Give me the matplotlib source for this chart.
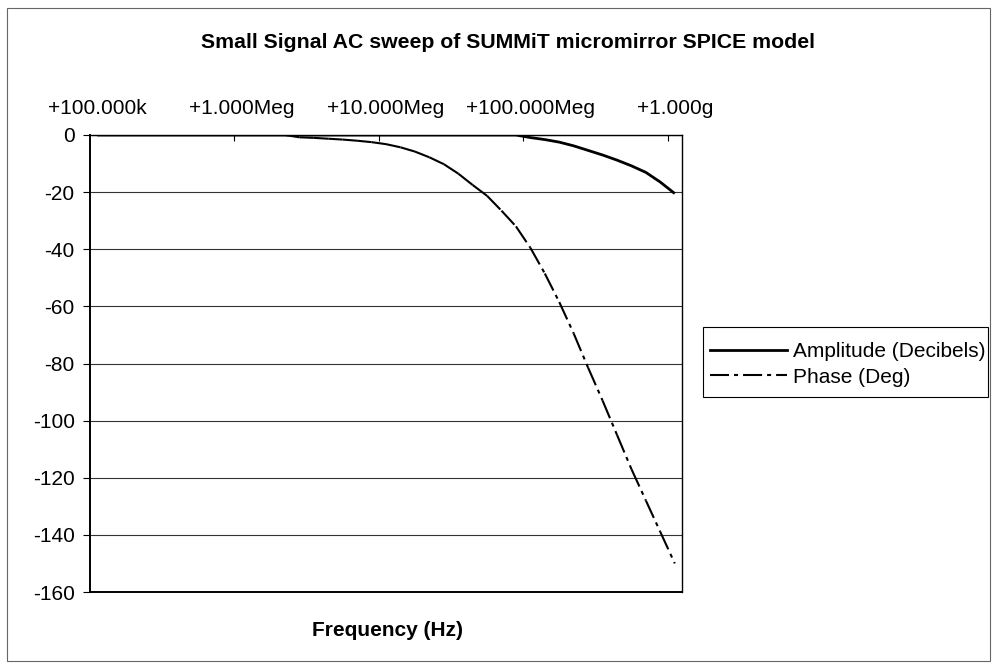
import numpy as np
import matplotlib
matplotlib.use("Agg")
import matplotlib.pyplot as plt
from matplotlib.collections import LineCollection
from matplotlib.lines import Line2D
from matplotlib.patches import Rectangle

plt.rcParams['font.family'] = ['Liberation Sans', 'DejaVu Sans']
plt.rcParams['lines.scale_dashes'] = False
plt.rcParams['axes.unicode_minus'] = False

# SPICE .AC DEC 10 sweep, 100k .. 1g -> 41 points
freq_labels = ["+100.000k", "+1.000Meg", "+10.000Meg", "+100.000Meg", "+1.000g"]
label_every = 10

amplitude_db = [0.0] * 30 + [-0.9, -1.6, -2.5, -3.8, -5.4, -7.0, -8.8, -10.8,
                             -13.1, -16.5, -20.5]

phase_deg = [0.0] * 14 + [-0.8, -1.0, -1.3, -1.6, -2.0, -2.5, -3.2, -4.3, -5.8,
                          -7.8, -10.2, -13.5, -17.5, -21.3, -26.5, -32.0, -39.5,
                          -48.5, -58.5, -69.5, -81.5, -93.0, -105.0, -117.0,
                          -128.0, -139.0, -150.0]

DASH = (0, (13.7, 3.6, 2.9, 3.6))

fig = plt.figure(figsize=(9.92, 6.64), dpi=100)
ax = fig.add_axes([90 / 992, 1 - 592 / 664, 592 / 992, 457 / 664])

n = len(amplitude_db)
idx = np.arange(n)

ax.set_xlim(-0.5, n - 0.5)
ax.set_ylim(-160, 0)
ax.set_yticks(np.arange(-160, 1, 20))
ax.yaxis.grid(True, color='0.2', linewidth=0.8)
ax.set_axisbelow(True)

ax.plot(idx, amplitude_db, color='black', linewidth=2.0, solid_capstyle='butt',
        zorder=4)

# Excel-style dashing: the pattern restarts on every segment
pts = np.column_stack([idx, phase_deg])
segs = np.stack([pts[:-1], pts[1:]], axis=1)
ax.add_collection(LineCollection(segs, colors='black', linewidths=1.5,
                                 linestyles=[DASH], zorder=3))

# category axis sits at y = 0, i.e. on top
ax.xaxis.tick_top()
ax.set_xticks(np.arange(label_every - 0.5, n - 1, label_every))
ax.set_xticklabels([])
ax.set_xticks(np.arange(0, n, label_every), minor=True)
ax.set_xticklabels(freq_labels, minor=True)
ax.tick_params(axis='x', which='major', direction='in', length=4, width=0.8,
               top=True, bottom=False)
ax.tick_params(axis='x', which='minor', length=0, pad=12, labelsize=15,
               top=True, bottom=False)
ax.tick_params(axis='y', direction='out', length=5, width=0.8, pad=6,
               labelsize=15)

for s in ax.spines.values():
    s.set_linewidth(1.0)
    s.set_color('black')
ax.spines['left'].set_linewidth(1.4)
ax.spines['bottom'].set_linewidth(1.4)

fig.text(508 / 992, 1 - 43 / 664, "Small Signal AC sweep of SUMMiT micromirror SPICE model",
         ha='center', va='center', fontsize=15.3, fontweight='bold')
fig.text(388 / 992, 1 - 630 / 664, "Frequency (Hz)", ha='center', va='center',
         fontsize=15, fontweight='bold')

handles = [Line2D([], [], color='black', linewidth=2.0),
           Line2D([], [], color='black', linewidth=1.5, linestyle=DASH)]
leg = fig.legend(handles, ["Amplitude (Decibels)", "Phase (Deg)"],
                 loc='center left', bbox_to_anchor=(703 / 992, 1 - 364.5 / 664),
                 fontsize=15, frameon=False, borderaxespad=0, borderpad=0.35,
                 handlelength=3.7, handletextpad=0.25, labelspacing=0.3)

# legend box and chart-area border
fig.patches.append(Rectangle((703 / 992, 1 - 397 / 664), 285 / 992, 70 / 664,
                             transform=fig.transFigure, fill=False,
                             edgecolor='black', linewidth=0.8))
fig.patches.append(Rectangle((7 / 992, 3 / 664), 983 / 992, 653 / 664,
                             transform=fig.transFigure, fill=False,
                             edgecolor='0.4', linewidth=0.8))

fig.savefig("out.png", dpi=100)
